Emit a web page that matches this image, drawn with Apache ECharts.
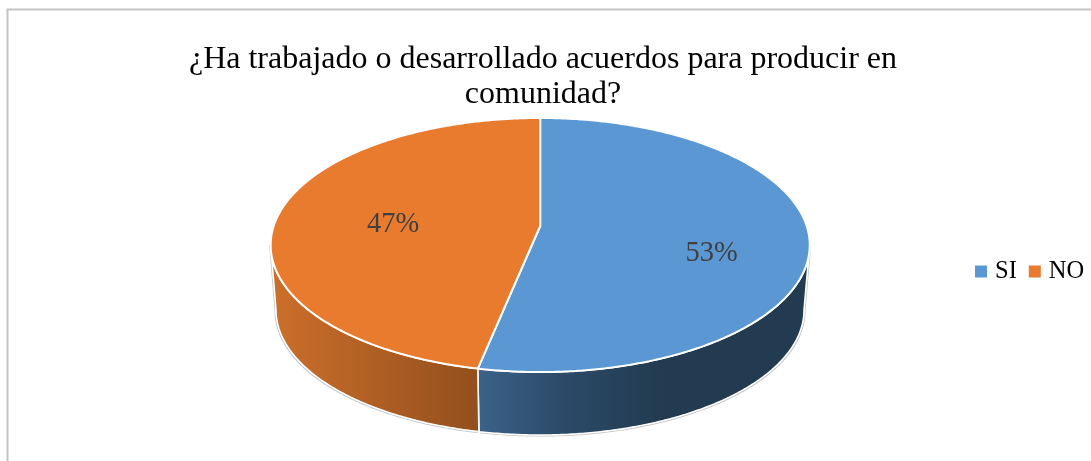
<!DOCTYPE html>
<html><head><meta charset="utf-8">
<style>html,body{margin:0;padding:0;background:#fff}#c{width:1091px;height:461px}</style>
<script src="https://cdn.jsdelivr.net/npm/echarts@6/dist/echarts.min.js"></script>
</head><body><div id="c"></div>
<script>
const titleText = '¿Ha trabajado o desarrollado acuerdos para producir en\ncomunidad?';
const categories = ['SI', 'NO'];
const values = [53.2, 46.8];
const faceColors = ['#5b98d3', '#e97b2f'];
const total = values.reduce((a, b) => a + b, 0);

// perspective disc geometry
const AX = 540.2, AY = 226, A = 266.5, B = 124.2, K = 0.1497;
const BOT = { cx: 540, cy: 310, rx: 263.5, ry: 125 };
const TOP_ELL = { cy: 245, b: 127 };
const LABEL_R = 0.64;
const LABEL_NUDGE = [[0, 19], [21, 6]];
const WALL = [[[0, '#3c6289'], [0.45, '#2c4b69'], [1, '#223b50']], [[0, '#cc6f2b'], [1, '#934f1c']]];
const WALL_X = [[478, 660], [272, 478]];
const WALL_FRONT = [98.6, 261.4];

function pt(deg, r) {
  const t = deg * Math.PI / 180, x = r * Math.sin(t), y = -r * Math.cos(t), w = 1 - K * y;
  return [AX + A * x / w, AY + B * y / w];
}
function arc(d0, d1, f) {
  const out = [], n = Math.max(2, Math.ceil(Math.abs(d1 - d0) * 2));
  for (let i = 0; i <= n; i++) out.push(f(d0 + (d1 - d0) * i / n));
  return out;
}
// bottom rim: same angular parameter as the top rim, projected to the lower ellipse
function bottomPt(deg) {
  const p = pt(deg, 1);
  const c = (p[0] - AX) / 269, s = (p[1] - TOP_ELL.cy) / TOP_ELL.b;
  return [BOT.cx + BOT.rx * c, BOT.cy + BOT.ry * s];
}
function span(i) {
  let s = 0;
  for (let k = 0; k < i; k++) s += values[k];
  return [s / total * 360, (s + values[i]) / total * 360];
}
function renderSlice(i) {
  return function (params, api) {
    const [d0, d1] = span(i);
    const pct = Math.round(api.value(0) / total * 100) + '%';
    const w0 = Math.max(d0, WALL_FRONT[0]), w1 = Math.min(d1, WALL_FRONT[1]);
    const wallPts = arc(w0, w1, d => pt(d, 1)).concat(arc(w1, w0, bottomPt));
    const facePts = [[AX, AY]].concat(arc(d0, d1, d => pt(d, 1)));
    const mid = pt((d0 + d1) / 2, LABEL_R);
    const halo = arc(w0, w1, bottomPt).map(p => [p[0], p[1] + 0.8]);
    if (i === 0) halo.unshift(pt(w0, 1));
    else halo.push(pt(w1, 1));
    return {
      type: 'group',
      children: [
        { type: 'polyline', z2: 1, silent: true,
          shape: { points: halo.map(p => [p[0] + (i === 0 ? 0.8 : -0.8), p[1]]) },
          style: { stroke: '#c4c4c4', lineWidth: 1.4, fill: 'none' } },
        { type: 'polygon', z2: 2, shape: { points: wallPts },
          style: { fill: new echarts.graphic.LinearGradient(WALL_X[i][0], 0, WALL_X[i][1], 0, WALL[i].map(s => ({ offset: s[0], color: s[1] })), true),
                   stroke: '#fff', lineWidth: 1.6 } },
        { type: 'polygon', z2: 3, shape: { points: facePts },
          style: { fill: faceColors[i], stroke: '#fff', lineWidth: 2, lineJoin: 'round' } },
        { type: 'text', z2: 4,
          x: mid[0] + LABEL_NUDGE[i][0], y: mid[1] + LABEL_NUDGE[i][1],
          style: { text: pct, fill: '#404040', font: '28.5px "Liberation Serif"', align: 'center', verticalAlign: 'middle' } }
      ]
    };
  };
}
const chart = echarts.init(document.getElementById('c'), null, { renderer: 'canvas' });
chart.setOption({
  animation: false,
  backgroundColor: '#fff',
  title: {
    text: titleText, left: 543, top: 42, textAlign: 'center', padding: 0,
    textStyle: { fontFamily: 'Liberation Serif', fontSize: 32, fontWeight: 'normal', color: '#000', lineHeight: 35 }
  },
  legend: {
    data: categories, left: 975, top: 259, padding: 0, itemGap: 12, itemWidth: 12, itemHeight: 12, icon: 'rect',
    selectedMode: false,
    textStyle: { fontFamily: 'Liberation Serif', fontSize: 24.5, color: '#000', padding: [0, 0, 0, 3] }
  },
  graphic: [{
    type: 'polyline', silent: true, shape: { points: [[7.5, 470], [7.5, 9.5], [1100, 9.5]] },
    style: { stroke: '#c4c4c4', lineWidth: 2, fill: 'none' }
  }],
  series: categories.map((name, i) => ({
    type: 'custom', name, coordinateSystem: 'none', silent: true,
    itemStyle: { color: faceColors[i] },
    data: [[values[i]]],
    renderItem: renderSlice(i)
  }))
});
</script></body></html>
